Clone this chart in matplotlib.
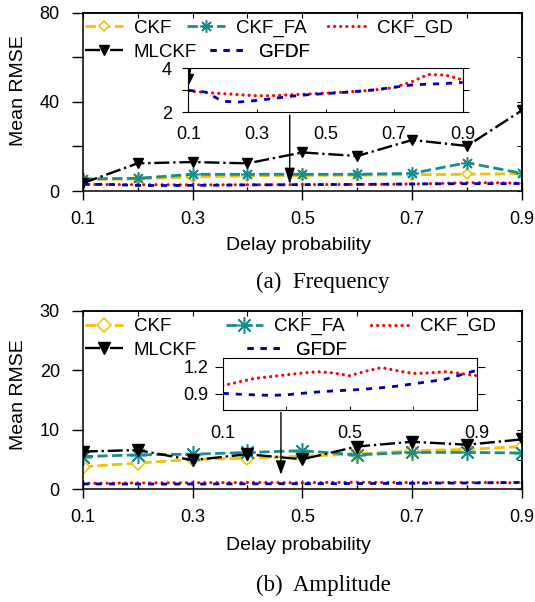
import numpy as np
import matplotlib.pyplot as plt

plt.rcParams['font.family'] = ['Liberation Sans', 'DejaVu Sans']

# ---------------- data ----------------
p = [0.1, 0.2, 0.3, 0.4, 0.5, 0.6, 0.7, 0.8, 0.9]
p_fine = [0.1, 0.15, 0.2, 0.25, 0.3, 0.35, 0.4, 0.45, 0.5,
          0.55, 0.6, 0.65, 0.7, 0.75, 0.8, 0.85, 0.9]

# (a) Frequency
freq_ckf = [5.2, 5.4, 6.3, 6.8, 7.0, 7.1, 7.3, 7.5, 7.8]
freq_ckf_fa = [5.4, 5.7, 7.5, 7.5, 7.5, 7.5, 7.9, 12.7, 7.9]
freq_mlckf = [3.5, 12.4, 13.0, 12.4, 17.3, 15.7, 22.9, 20.2, 36.2]
freq_ckf_gd = [2.97, 2.90, 2.85, 2.80, 2.75, 2.76, 2.80, 2.83, 2.87,
               2.91, 2.96, 3.03, 3.12, 3.38, 3.72, 3.69, 3.47]
freq_gfdf = [3.00, 2.92, 2.50, 2.47, 2.54, 2.63, 2.73, 2.80, 2.85,
             2.90, 2.96, 3.03, 3.14, 3.24, 3.28, 3.31, 3.36]

# (b) Amplitude
amp_ckf = [3.8, 4.4, 5.05, 5.2, 5.6, 5.9, 6.5, 6.7, 7.2]
amp_ckf_fa = [5.5, 5.8, 5.9, 6.2, 6.5, 5.8, 6.2, 6.2, 6.1]
amp_mlckf = [6.35, 6.6, 4.9, 5.9, 5.05, 7.2, 8.0, 7.5, 8.4]
amp_ckf_gd = [0.99, 1.03, 1.07, 1.09, 1.11, 1.13, 1.145, 1.13, 1.10,
              1.15, 1.19, 1.155, 1.125, 1.13, 1.145, 1.125, 1.10]
amp_gfdf = [0.905, 0.895, 0.888, 0.882, 0.888, 0.905, 0.92, 0.932, 0.94,
            0.952, 0.967, 0.985, 1.01, 1.035, 1.06, 1.11, 1.16]

W, H = 535, 602
YEL, TEAL, RED, BLUE = '#f2c100', '#1a8c8c', '#ff0000', '#0000b0'


def rect(l, t, r, b):
    return [l / W, 1 - b / H, (r - l) / W, (b - t) / H]


def draw(ax, ckf, fa, ml, gd, gf, big):
    k = 1.35 if big else 1.0
    ln = {}
    ln['CKF'] = ax.plot(p, ckf, color=YEL, ls='--', lw=2, marker='D', ms=5.5 * k,
                        mfc='white', mec=YEL, mew=1.1)[0]
    ln['CKF_FA'] = ax.plot(p, fa, color=TEAL, ls='--', lw=2, marker=(8, 2, 0),
                           ms=9 * k, mew=1.1)[0]
    ln['CKF_GD'] = ax.plot(p_fine, gd, color=RED, ls=(0, (0.01, 1.9)), lw=2.3,
                           dash_capstyle='round')[0]
    ln['MLCKF'] = ax.plot(p, ml, color='black', ls='-.', lw=1.7, marker='v',
                          ms=6.5 * k)[0]
    ln['GFDF'] = ax.plot(p_fine, gf, color=BLUE, ls=(0, (2.2, 2.5)), lw=2)[0]
    return ln


def style_main(ax, ymax, ystep, ylabels):
    ax.set_xlim(0.1, 0.9)
    ax.set_ylim(0, ymax)
    ax.set_xticks([0.1, 0.3, 0.5, 0.7, 0.9])
    ax.set_xticks([0.2, 0.4, 0.6, 0.8], minor=True)
    ax.set_yticks(np.arange(0, ymax + 1, ystep), ylabels)
    ax.tick_params(axis='x', which='major', direction='inout', length=13.5,
                   width=1, pad=7.5, labelsize=13)
    ax.tick_params(axis='x', which='minor', direction='in', length=3, width=1)
    ax.tick_params(axis='y', direction='out', length=8, width=1, pad=8.5,
                   labelsize=13)
    top = ax.secondary_xaxis('top')
    top.set_xticks(p)
    top.tick_params(direction='in', length=3.5, labeltop=False)
    right = ax.secondary_yaxis('right')
    right.set_yticks(np.arange(0, ymax + 1, ystep / 2 if ymax < 50 else ystep))
    right.tick_params(direction='in', length=3.5, labelright=False)
    for s in list(ax.spines.values()) + [top.spines['top'], right.spines['right']]:
        s.set_linewidth(1.1)


def key(ax, line, label, x, y):
    lg = ax.legend([line], [label], loc='center left',
                   bbox_to_anchor=(x / W, 1 - y / H), bbox_transform=fig.transFigure,
                   frameon=False, handlelength=2.0, handletextpad=0.6,
                   borderpad=0, borderaxespad=0, fontsize=13.5)
    ax.add_artist(lg)


fig = plt.figure(figsize=(W / 100, H / 100), dpi=100)

# ---------------- (a) Frequency ----------------
ax1 = fig.add_axes(rect(82.7, 12.7, 522, 191))
ln1 = draw(ax1, freq_ckf, freq_ckf_fa, freq_mlckf, freq_ckf_gd, freq_gfdf, False)
style_main(ax1, 80, 20, ['0', '', '40', '', '80'])
ax1.annotate('', xy=(0.477, 1.8), xytext=(0.477, 35.3),
             arrowprops=dict(arrowstyle='-|>,head_length=0.7,head_width=0.22',
                             color='black', lw=1, mutation_scale=14))
key(ax1, ln1['CKF'], 'CKF', 85, 28)
key(ax1, ln1['CKF_FA'], 'CKF_FA', 187, 28)
key(ax1, ln1['CKF_GD'], 'CKF_GD', 328, 28)
key(ax1, ln1['MLCKF'], 'MLCKF', 85, 52)
key(ax1, ln1['GFDF'], 'GFDF', 210, 52)

ins1 = fig.add_axes(rect(188.3, 68.3, 462.7, 112.3))
draw(ins1, freq_ckf, freq_ckf_fa, freq_mlckf, freq_ckf_gd, freq_gfdf, False)
ins1.set_xlim(0.1, 0.9)
ins1.set_ylim(2, 4)
ins1.set_xticks([0.1, 0.3, 0.5, 0.7, 0.9])
ins1.set_yticks([2, 3, 4], ['2', '', '4'])
ins1.tick_params(axis='x', direction='in', length=2, pad=10, labelsize=13)
ins1.tick_params(axis='y', direction='out', length=4.5, pad=7.5, labelsize=13,
                 right=True)

# ---------------- (b) Amplitude ----------------
ax2 = fig.add_axes(rect(82.7, 311, 522, 489.3))
ln2 = draw(ax2, amp_ckf, amp_ckf_fa, amp_mlckf, amp_ckf_gd, amp_gfdf, True)
style_main(ax2, 30, 10, ['0', '10', '20', '30'])
ax2.annotate('', xy=(0.461, 2.0), xytext=(0.461, 13.4),
             arrowprops=dict(arrowstyle='-|>,head_length=0.6,head_width=0.22',
                             color='black', lw=1, mutation_scale=14))
key(ax2, ln2['CKF'], 'CKF', 85, 326.7)
key(ax2, ln2['CKF_FA'], 'CKF_FA', 225.6, 326.7)
key(ax2, ln2['CKF_GD'], 'CKF_GD', 371, 326.7)
key(ax2, ln2['MLCKF'], 'MLCKF', 85, 350)
key(ax2, ln2['GFDF'], 'GFDF', 247, 350)

ins2 = fig.add_axes(rect(222.7, 357.7, 476.7, 410))
draw(ins2, amp_ckf, amp_ckf_fa, amp_mlckf, amp_ckf_gd, amp_gfdf, True)
ins2.set_xlim(0.1, 0.9)
ins2.set_ylim(0.72, 1.3)
ins2.set_xticks([0.1, 0.5, 0.9])
ins2.set_xticks([0.3, 0.7], minor=True)
ins2.set_yticks([0.9, 1.2])
ins2.tick_params(axis='x', which='both', direction='in', length=3, pad=11,
                 labelsize=13)
ins2.tick_params(axis='y', direction='out', length=5.5, pad=5, labelsize=13,
                 right=True)

# ---------------- labels ----------------
for yc in (91, 395):
    fig.text(19 / W, 1 - yc / H, 'Mean RMSE', rotation=90, ha='center',
             va='center', fontsize=14)
for yc in (245, 545):
    fig.text(298 / W, 1 - yc / H, 'Delay probability', ha='center',
             va='center', fontsize=14)
fig.text(323 / W, 1 - 282 / H, '(a)  Frequency', ha='center', va='center',
         fontsize=16.5, family='Liberation Serif')
fig.text(323 / W, 1 - 585 / H, '(b)  Amplitude', ha='center', va='center',
         fontsize=16.5, family='Liberation Serif')

fig.savefig('out.png', dpi=100)
